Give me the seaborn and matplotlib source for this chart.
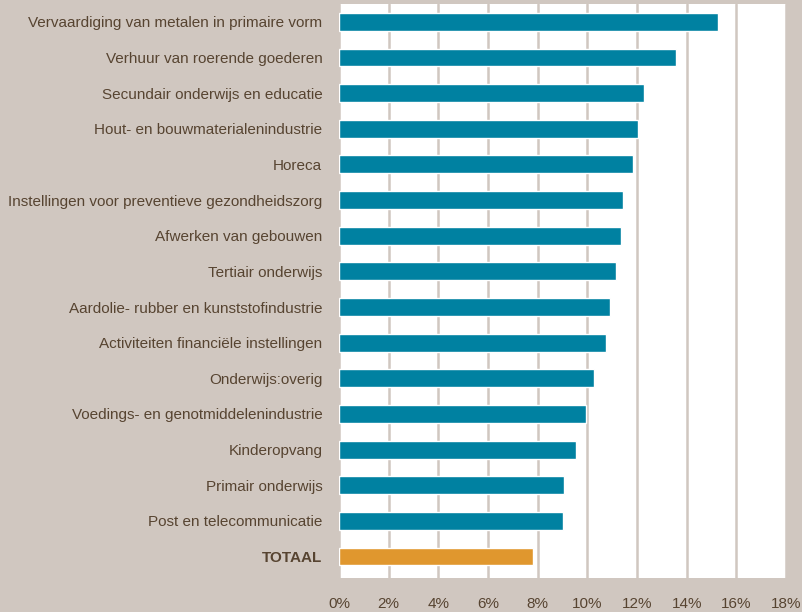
import matplotlib
matplotlib.use("Agg")
import matplotlib.pyplot as plt
import seaborn as sns
import pandas as pd
from matplotlib.ticker import FuncFormatter

# Data
sectors = [
    "Vervaardiging van metalen in primaire vorm",
    "Verhuur van roerende goederen",
    "Secundair onderwijs en educatie",
    "Hout- en bouwmaterialenindustrie",
    "Horeca",
    "Instellingen voor preventieve gezondheidszorg",
    "Afwerken van gebouwen",
    "Tertiair onderwijs",
    "Aardolie- rubber en kunststofindustrie",
    "Activiteiten financiële instellingen",
    "Onderwijs:overig",
    "Voedings- en genotmiddelenindustrie",
    "Kinderopvang",
    "Primair onderwijs",
    "Post en telecommunicatie",
    "TOTAAL",
]
values = [15.27, 13.58, 12.29, 12.05, 11.84, 11.44, 11.36, 11.16,
          10.92, 10.76, 10.28, 9.96, 9.56, 9.07, 9.03, 7.81]

BG = "#d0c7c0"
TEAL = "#0081a1"
ORANGE = "#e0972e"
TEXT = "#574431"

df = pd.DataFrame({"sector": sectors, "value": values})
palette = [ORANGE if s == "TOTAAL" else TEAL for s in sectors]

sns.set_style("white")
plt.rcParams["font.family"] = ["Liberation Sans", "DejaVu Sans"]

fig = plt.figure(figsize=(8.03, 6.12), dpi=100, facecolor=BG)
ax = fig.add_axes([0.4222, 0.0556, 0.5566, 0.9379])
ax.set_facecolor("white")

sns.barplot(data=df, y="sector", x="value", hue="sector", palette=palette,
            legend=False, width=0.5, ax=ax, saturation=1)

ax.set_xlim(0, 18)
ax.set_ylim(15.6, -0.5)
ax.set_xticks(range(0, 19, 2))
ax.xaxis.set_major_formatter(FuncFormatter(lambda v, p: f"{int(v)}%"))
ax.grid(axis="x", color=BG, linewidth=1.8)
ax.grid(axis="y", visible=False)
ax.set_axisbelow(True)
for s in ax.spines.values():
    s.set_visible(False)

ax.set_xlabel("")
ax.set_ylabel("")
ax.tick_params(axis="both", length=0, colors=TEXT, labelsize=11)
ax.tick_params(axis="y", pad=12)
ax.tick_params(axis="x", pad=14)
for lbl in ax.get_yticklabels():
    if lbl.get_text() == "TOTAAL":
        lbl.set_fontweight("bold")

fig.savefig("out.png", dpi=100, facecolor=BG)
